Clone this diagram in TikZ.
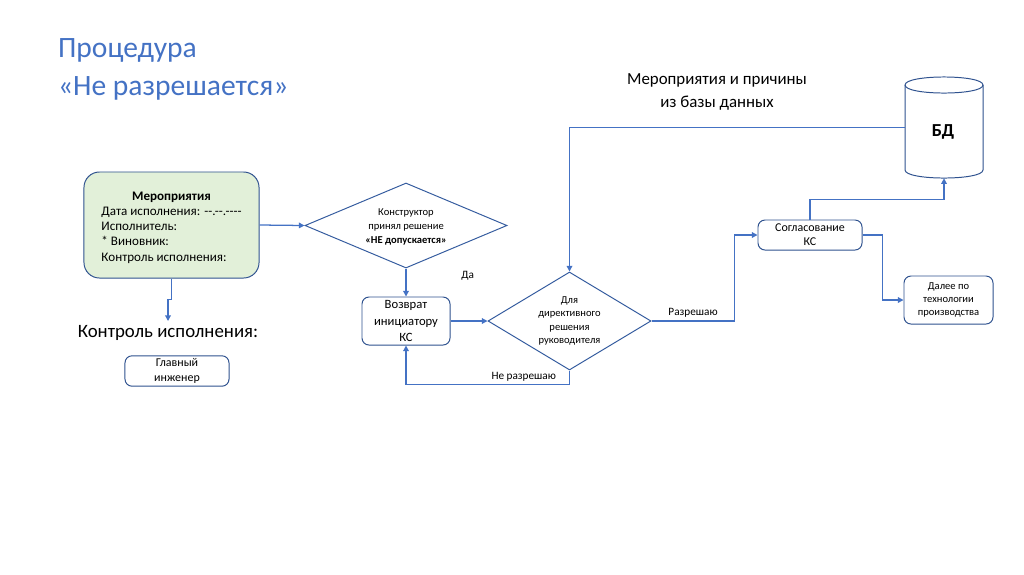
\documentclass[tikz,border=0pt]{standalone}
\usepackage{fontspec}
\setmainfont{Carlito}
\usepackage{tikz}
\usetikzlibrary{arrows.meta, positioning, shapes.geometric, calc}
\definecolor{linkblue}{HTML}{4472C4}
\definecolor{edgeblue}{HTML}{2F528F}
\definecolor{notegreen}{HTML}{E2F0D9}

\begin{document}
\begin{tikzpicture}[
  x=0.025cm, y=-0.025cm,
  >={Triangle[length=4pt, width=4pt]},
  every node/.style={inner sep=2pt},
  box/.style={
    draw=edgeblue, rounded corners=5pt, fill=white, align=center,
    line width=0.7pt
  },
  decision/.style={
    diamond, draw=edgeblue!70!linkblue, fill=white, align=center,
    aspect=2.4, inner sep=0pt, line width=0.7pt
  },
  link/.style={->, draw=linkblue, line width=0.9pt},
  annotation/.style={font=\fontsize{8}{10}\selectfont},
  heading/.style={font=\fontsize{21}{27}\selectfont, text=linkblue, anchor=base west}
]
\useasboundingbox (0,0) rectangle (1024,574);

% --- Title ---
\node[heading] (title1) at (55,57) {Процедура};
\node[heading] (title2) at (55,95) {«Не разрешается»};

% --- Left column: the event card and its control ---
\node[box, fill=notegreen, rounded corners=11pt, minimum width=4.375cm, minimum height=2.65cm,
      font=\fontsize{9.3}{10.8}\selectfont] (event) at (171.5,225)
  {\begin{tabular}{@{}l@{}}
   \\[-7pt]
   \multicolumn{1}{@{}c@{}}{\textbf{Мероприятия}}\\
   Дата исполнения: -{}-.-{}-.-{}-{}-{}-\\
   Исполнитель:\\
   {*} Виновник:\\
   Контроль исполнения:
   \end{tabular}};
\node[anchor=north, inner sep=3pt, font=\fontsize{13.4}{16}\selectfont] (ctrl) at (168,321) {Контроль исполнения:};
\node[box, minimum width=2.6cm, minimum height=0.7cm, font=\fontsize{8.5}{10.5}\selectfont] (chief) at (177,371) {Главный\\инженер};

% --- Middle: decisions ---
\node[decision, minimum width=5.05cm, minimum height=2.125cm, font=\fontsize{7.5}{10}\selectfont] (dec1) at (406,225.5)
  {\\[-3pt]Конструктор\\принял решение\\\textbf{«НЕ допускается»}};
\node[box, minimum width=2.2cm, minimum height=1.2cm, font=\fontsize{9}{11.4}\selectfont] (ret) at (406,321) {Возврат\\инициатору\\КС};
\node[decision, aspect=1.65, minimum width=4.075cm, minimum height=2.45cm, font=\fontsize{7.5}{9.3}\selectfont] (dec2) at (569.5,321)
  {Для\\директивного\\решения\\руководителя};

% --- Right: approval, database, next step ---
\node[box, minimum width=2.6cm, minimum height=0.75cm, font=\fontsize{8.5}{10}\selectfont] (agree) at (810,235) {Согласование\\КС};
\node[box, minimum width=2.225cm, minimum height=1.2cm, font=\fontsize{7.5}{9}\selectfont] (next) at (948.5,300) {Далее по\\технологии\\производства};
\node[minimum width=1.95cm, minimum height=2.525cm, inner sep=0pt] (bd) at (944,127.5) {};
% cylinder
\draw[draw=edgeblue, line width=0.7pt, fill=white]
  (905,85) -- (905,170) .. controls (905,180.7) and (983,180.7) .. (983,170)
  -- (983,85) .. controls (983,74.3) and (905,74.3) .. (905,85) -- cycle;
\draw[draw=edgeblue, line width=0.7pt]
  (905,85) .. controls (905,95.7) and (983,95.7) .. (983,85);
\node[font=\fontsize{13}{15}\selectfont\bfseries] (bdlabel) at (943,132) {БД};
\node[align=center, font=\fontsize{12}{17}\selectfont] (bdnote) at (717,92) {Мероприятия и причины\\из базы данных};

% --- Connectors ---
\draw[link] (event.east) -- (dec1.west);
\draw[link] (event.south) -- ++(0,21) -| (ctrl.north);
\draw[link] (dec1.south) -- (ret.north) node[pos=0.25, right=1.3cm, annotation] {Да};
\draw[link] (ret.east) -- (dec2.west);
\draw[link] (dec2.south) -- ++(0,14) -| (ret.south) node[pos=0.14, above, annotation] {Не разрешаю};
\draw[link] (dec2.east) -- ++(83,0) node[midway, above, annotation] {Разрешаю} |- (agree.west);
\draw[link] (agree.north) -- ++(0,-20) -| (bd.south);
\draw[link] (bd.west) -| (dec2.north);
\draw[link] (agree.east) -- ++(20,0) |- (next.west);

\end{tikzpicture}
\end{document}
